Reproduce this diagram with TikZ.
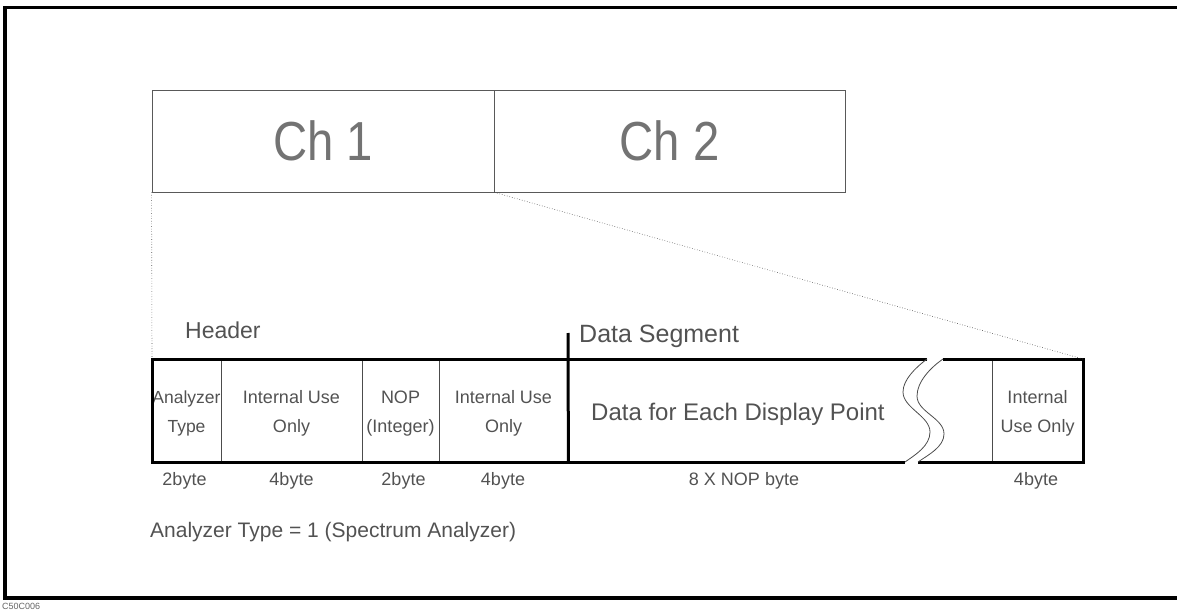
\documentclass[tikz,border=0pt]{standalone}
\usepackage{fontspec}
\setmainfont{Liberation Sans}
\usepackage{graphicx}
\begin{document}
\begin{tikzpicture}[x=1pt,y=-1pt,
  txt/.style={text=black!68, inner sep=0pt},
  thinline/.style={draw=black!70, line width=0.8pt},
  thickline/.style={draw=black, line width=3pt},
  dotline/.style={draw=black!70, line width=0.6pt, dotted},
  chbox/.style={draw=black!65, line width=0.8pt, inner sep=0pt, text=black!55,
    font=\fontsize{55}{60}\selectfont},
  cell/.style={draw=black!70, line width=0.8pt, minimum height=103pt, inner sep=0pt},
  lbl/.style={txt, align=center, font=\fontsize{18}{29}\selectfont},
  bytelbl/.style={txt, anchor=base, font=\fontsize{18}{20}\selectfont},
  midlbl/.style={txt, anchor=base west, font=\fontsize{24}{26}\selectfont}
]
\useasboundingbox (0,0) rectangle (1177,612);
% outer frame
\draw[line width=3.5pt] (5,7.5) rectangle (1186,598);
\node[txt, anchor=base west, font=\fontsize{9}{10}\selectfont, text=black!60] (cap) at (2,609) {C50C006};

% channel boxes
\node[chbox, minimum width=342pt, minimum height=102pt] (ch1) at (323,141) {\scalebox{0.86}[1]{Ch 1}};
\node[chbox, minimum width=351pt, minimum height=102pt] (ch2) at (669.5,141) {\scalebox{0.86}[1]{Ch 2}};

% cells
\node[cell, minimum width=69pt] (c1) at (186.5,410.5) {};
\node[cell, minimum width=141pt] (c2) at (291.5,410.5) {};
\node[cell, minimum width=77pt] (c3) at (400.5,410.5) {};
\node[cell, minimum width=129pt] (c4) at (503.5,410.5) {};
\node[cell, minimum width=91pt] (c7) at (1037.5,410.5) {};

\node[lbl, font=\fontsize{17.5}{29}\selectfont] (t1) at ([yshift=-3pt]c1.center) {Analyzer\\Type};
\node[lbl] (t2) at ([yshift=-3pt]c2.center) {Internal Use\\Only};
\node[lbl] (t3) at ([yshift=-3pt]c3.center) {NOP\\(Integer)};
\node[lbl] (t4) at ([yshift=-3pt]c4.center) {Internal Use\\Only};
\node[lbl] (t7) at ([yshift=-3pt]c7.center) {Internal\\Use Only};
\node[midlbl] (t5) at (591,420) {Data for Each Display Point};

% thick outline with break
\coordinate (bTL) at (152,359);
\coordinate (bBL) at (152,462);
\coordinate (bTR) at (1083,359);
\coordinate (bBR) at (1083,462);
\coordinate (wLt) at (927,359);
\coordinate (wLb) at (905,462);
\coordinate (wRt) at (943,359);
\coordinate (wRb) at (918,462);
\draw[thickline, line join=miter] (wLt) -- (bTL) -- (bBL) -- (wLb);
\draw[thickline, line join=miter] (wRt) -- (bTR) -- (bBR) -- (wRb);
\draw[thinline] (wLt) .. controls (915,368) and (903,380) .. (903,392)
  .. controls (903,408) and (930,416) .. (930,432)
  .. controls (930,446) and (915,455) .. (wLb);
\draw[thinline] (wRt) .. controls (930,368) and (917,382) .. (917,396)
  .. controls (917,412) and (944,418) .. (944,434)
  .. controls (944,447) and (928,455) .. (wRb);

% data segment marker
\coordinate (dsTop) at (568,333);
\draw[thickline] (dsTop) -- (c4.south east);

% dotted projection lines
\draw[dotline] (ch1.south west) -- (bTL);
\draw[dotline] (ch1.south east) -- (bTR);

% headings
\node[midlbl, font=\fontsize{23}{26}\selectfont] (hdr) at (185,338) {Header};
\node[midlbl, font=\fontsize{25}{28}\selectfont] (dseg) at (579,342) {Data Segment};

% byte sizes
\node[bytelbl] (b1) at (184.5,485) {2byte};
\node[bytelbl] (b2) at (291.5,485) {4byte};
\node[bytelbl] (b3) at (403.5,485) {2byte};
\node[bytelbl] (b4) at (503,485) {4byte};
\node[bytelbl] (b5) at (744,485) {8 X NOP byte};
\node[bytelbl] (b7) at (1036,485) {4byte};

\node[txt, anchor=base west, font=\fontsize{21}{23}\selectfont] (note) at (150,537) {Analyzer Type = 1 (Spectrum Analyzer)};
\end{tikzpicture}
\end{document}
